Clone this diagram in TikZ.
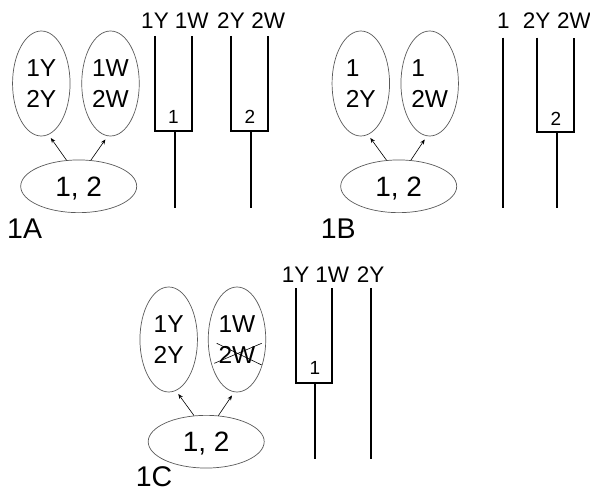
\documentclass[tikz,border=0pt]{standalone}
\usepackage{fontspec}
\setmainfont{Liberation Sans}
\usetikzlibrary{shapes.geometric,arrows.meta}
\begin{document}
\begin{tikzpicture}[x=1pt,y=-1pt,
  set/.style={ellipse,draw=black!65,line width=0.7pt,minimum width=57.5pt,minimum height=105pt,inner sep=0pt,align=center,font=\fontsize{24.5}{31}\selectfont},
  base/.style={ellipse,draw=black!65,line width=0.7pt,minimum width=116pt,minimum height=52.7pt,inner sep=0pt,text depth=0pt,font=\fontsize{28}{30}\selectfont},
  link/.style={-{Stealth[length=5pt,width=4pt]},line width=0.6pt,shorten >=4pt},
  fork/.style={line width=1.9pt},
  leaf/.style={anchor=base,font=\fontsize{22.5}{24}\selectfont,inner sep=0pt},
  mid/.style={anchor=base,font=\fontsize{19}{20}\selectfont,inner sep=0pt},
  tag/.style={anchor=base west,font=\fontsize{28.5}{30}\selectfont,inner sep=0pt},
  strike/.style={line width=0.6pt}
]
\useasboundingbox (0,0) rectangle (590,495);

% ---------- 1A ----------
\node[set] (aL) at (41.3,83.5) {1Y\\2Y};
\node[set] (aR) at (110.5,83.5) {1W\\2W};
\node[base] (aB) at (78.7,186.3) {1, 2};
\draw[link] (aB.115) -- (aL.-82);
\draw[link] (aB.65) -- (aR.-93);
\node[tag] (aT) at (7,238.3) {1A};

\node[leaf] (a1Y) at (155,28.3) {1Y};
\node[leaf] (a1W) at (191.7,28.3) {1W};
\node[leaf] (a2Y) at (231,28.3) {2Y};
\node[leaf] (a2W) at (268.3,28.3) {2W};
\coordinate (a1l) at (155,36);
\coordinate (a1r) at (191.7,36);
\coordinate (a1lb) at (155,130.7);
\coordinate (a1rb) at (191.7,130.7);
\coordinate (a1s) at (175,130.7);
\coordinate (a1e) at (175,208.3);
\draw[fork] (a1l) -- (a1lb) -- (a1rb) -- (a1r);
\draw[fork] (a1s) -- (a1e);
\node[mid] (a1m) at (173.3,124) {1};
\coordinate (a2l) at (231,36);
\coordinate (a2r) at (268.3,36);
\coordinate (a2lb) at (231,130.7);
\coordinate (a2rb) at (268.3,130.7);
\coordinate (a2s) at (250.7,130.7);
\coordinate (a2e) at (250.7,208.3);
\draw[fork] (a2l) -- (a2lb) -- (a2rb) -- (a2r);
\draw[fork] (a2s) -- (a2e);
\node[mid] (a2m) at (250,124) {2};

% ---------- 1B ----------
\node[set,align=left] (bL) at (360.8,83.5) {1\\2Y};
\node[set,align=left] (bR) at (429.7,83.5) {1\\2W};
\node[base] (bB) at (398.7,186.3) {1, 2};
\draw[link] (bB.115) -- (bL.-82);
\draw[link] (bB.65) -- (bR.-93);
\node[tag] (bT) at (320.7,238.3) {1B};

\node[leaf] (b1) at (503.3,28.3) {1};
\node[leaf] (b2Y) at (536.7,28.3) {2Y};
\node[leaf] (b2W) at (574,28.3) {2W};
\coordinate (b1t) at (503.3,37.7);
\coordinate (b1e) at (503.3,208.3);
\draw[fork] (b1t) -- (b1e);
\coordinate (b2l) at (536.7,37.7);
\coordinate (b2r) at (574,37.7);
\coordinate (b2lb) at (536.7,131.7);
\coordinate (b2rb) at (574,131.7);
\coordinate (b2s) at (556.7,131.7);
\coordinate (b2e) at (556.7,208.3);
\draw[fork] (b2l) -- (b2lb) -- (b2rb) -- (b2r);
\draw[fork] (b2s) -- (b2e);
\node[mid] (b2m) at (556,125) {2};

% ---------- 1C ----------
\node[set] (cL) at (168.7,339.5) {1Y\\2Y};
\node[set] (cR) at (237,339.5) {1W\\2W};
\node[base] (cB) at (206.2,441.7) {1, 2};
\draw[link] (cB.115) -- (cL.-82);
\draw[link] (cB.65) -- (cR.-93);
\node[tag] (cT) at (135.7,486.7) {1C};
\draw[strike] ([shift={(-22.7,23.8)}]cR.center) -- ([shift={(24.7,3.8)}]cR.center);
\draw[strike] ([shift={(-20.3,3.8)}]cR.center) -- ([shift={(24.7,25.5)}]cR.center);

\node[leaf] (c1Y) at (295.7,282.7) {1Y};
\node[leaf] (c1W) at (332.3,282.7) {1W};
\node[leaf] (c2Y) at (370.7,282.7) {2Y};
\coordinate (c1l) at (295.7,288.3);
\coordinate (c1r) at (332.3,288.3);
\coordinate (c1lb) at (295.7,382.7);
\coordinate (c1rb) at (332.3,382.7);
\coordinate (c1s) at (315,382.7);
\coordinate (c1e) at (315,459.3);
\draw[fork] (c1l) -- (c1lb) -- (c1rb) -- (c1r);
\draw[fork] (c1s) -- (c1e);
\node[mid] (c1m) at (315,374) {1};
\coordinate (c2t) at (370.7,288.3);
\coordinate (c2e) at (370.7,459.3);
\draw[fork] (c2t) -- (c2e);
\end{tikzpicture}
\end{document}
